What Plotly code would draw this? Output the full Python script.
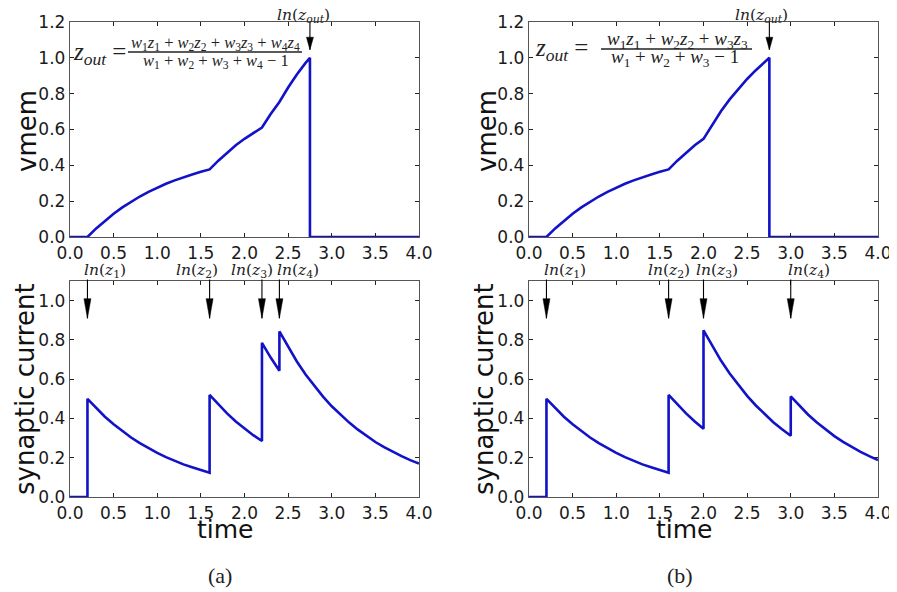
import plotly.graph_objects as go

# the page body has an 8px margin; the figure is sized so it fills the 897x592 window
OFF = 8
W, H = 897 - OFF, 592 - OFF

# ---------------- data ----------------
t_cur_a = [0.0, 0.2, 0.2, 0.3, 0.4, 0.5, 0.6, 0.7, 0.8, 0.9, 1.0, 1.1, 1.2, 1.3, 1.4, 1.5, 1.6, 1.6,
           1.7, 1.8, 1.9, 2.0, 2.1, 2.2, 2.2, 2.3, 2.4, 2.4, 2.5, 2.6, 2.7, 2.8, 2.9, 3.0,
           3.1, 3.2, 3.3, 3.4, 3.5, 3.6, 3.7, 3.8, 3.9, 4.0]
cur_a = [0.0, 0.0, 0.50, 0.452, 0.409, 0.370, 0.335, 0.303, 0.274, 0.248, 0.225, 0.203, 0.184, 0.166,
         0.151, 0.136, 0.123, 0.52, 0.471, 0.426, 0.385, 0.348, 0.315, 0.285, 0.785, 0.710, 0.643,
         0.843, 0.763, 0.690, 0.624, 0.565, 0.511, 0.462, 0.418, 0.379, 0.343, 0.310, 0.280, 0.254,
         0.230, 0.208, 0.188, 0.170]

t_cur_b = [0.0, 0.2, 0.2, 0.3, 0.4, 0.5, 0.6, 0.7, 0.8, 0.9, 1.0, 1.1, 1.2, 1.3, 1.4, 1.5, 1.6, 1.6,
           1.7, 1.8, 1.9, 2.0, 2.0, 2.1, 2.2, 2.3, 2.4, 2.5, 2.6, 2.7, 2.8, 2.9, 3.0, 3.0,
           3.1, 3.2, 3.3, 3.4, 3.5, 3.6, 3.7, 3.8, 3.9, 4.0]
cur_b = [0.0, 0.0, 0.50, 0.452, 0.409, 0.370, 0.335, 0.303, 0.274, 0.248, 0.225, 0.203, 0.184, 0.166,
         0.151, 0.136, 0.123, 0.52, 0.471, 0.426, 0.385, 0.348, 0.849, 0.768, 0.695, 0.629, 0.569,
         0.515, 0.466, 0.422, 0.381, 0.345, 0.312, 0.512, 0.463, 0.419, 0.379, 0.343, 0.310, 0.281,
         0.254, 0.230, 0.208, 0.188]

t_vmem_a = [0.0, 0.2, 0.3, 0.4, 0.5, 0.6, 0.7, 0.8, 0.9, 1.0, 1.1, 1.2, 1.3, 1.4, 1.5, 1.6,
            1.7, 1.8, 1.9, 2.0, 2.1, 2.2, 2.3, 2.4, 2.5, 2.6, 2.7, 2.75, 2.75, 4.0]
vmem_a = [0.0, 0.0, 0.048, 0.091, 0.130, 0.165, 0.197, 0.226, 0.252, 0.275, 0.297, 0.316, 0.334,
          0.349, 0.364, 0.377, 0.426, 0.471, 0.512, 0.548, 0.581, 0.611, 0.686, 0.754, 0.834,
          0.907, 0.972, 1.0, 0.0, 0.0]

t_vmem_b = [0.0, 0.2, 0.3, 0.4, 0.5, 0.6, 0.7, 0.8, 0.9, 1.0, 1.1, 1.2, 1.3, 1.4, 1.5, 1.6,
            1.7, 1.8, 1.9, 2.0, 2.1, 2.2, 2.3, 2.4, 2.5, 2.6, 2.7, 2.755, 2.755, 4.0]
vmem_b = [0.0, 0.0, 0.048, 0.091, 0.130, 0.165, 0.197, 0.226, 0.252, 0.275, 0.297, 0.316, 0.334,
          0.349, 0.364, 0.377, 0.426, 0.471, 0.512, 0.548, 0.629, 0.702, 0.768, 0.828, 0.882,
          0.931, 0.975, 1.0, 0.0, 0.0]

spikes_a = [0.2, 1.6, 2.2, 2.4]
spikes_b = [0.2, 1.6, 2.0, 3.0]
spike_labels = ["<i>ln</i>(<i>z</i><sub>1</sub>)", "<i>ln</i>(<i>z</i><sub>2</sub>)",
                "<i>ln</i>(<i>z</i><sub>3</sub>)", "<i>ln</i>(<i>z</i><sub>4</sub>)"]
fire_a = 2.75
fire_b = 2.755
fire_label = "<i>ln</i>(<i>z</i><sub><i>out</i></sub>)"

x_ticks = [0.0, 0.5, 1.0, 1.5, 2.0, 2.5, 3.0, 3.5, 4.0]
vmem_ticks = [0.0, 0.2, 0.4, 0.6, 0.8, 1.0, 1.2]
cur_ticks = [0.0, 0.2, 0.4, 0.6, 0.8, 1.0]

# ---------------- layout helpers (window pixels -> paper) ----------------
def px(x):
    return (x - OFF) / W

def py(y):
    return 1 - (y - OFF) / H

LINE = "#1212c8"
SERIF = "Liberation Serif"
LSERIF = "DejaVu Serif"
SANS = "DejaVu Sans"

panels = {  # (x0, x1, y0, y1) in window pixels
    "a_top": (70, 419, 22, 237),
    "b_top": (529, 878, 22, 237),
    "a_bot": (70, 419, 281, 497),
    "b_bot": (529, 878, 281, 497),
}

fig = go.Figure()

series = [
    ("x", "y", t_vmem_a, vmem_a),
    ("x2", "y2", t_vmem_b, vmem_b),
    ("x3", "y3", t_cur_a, cur_a),
    ("x4", "y4", t_cur_b, cur_b),
]
for xa, ya, xs, ys in series:
    fig.add_trace(go.Scatter(x=xs, y=ys, mode="lines", xaxis=xa, yaxis=ya,
                             line=dict(color=LINE, width=2.6), showlegend=False,
                             hoverinfo="skip", cliponaxis=False))

axis_common = dict(showline=True, mirror="ticks", linecolor="#555", linewidth=1.4,
                   ticks="inside", ticklen=4, tickwidth=1, tickcolor="#222",
                   showgrid=False, zeroline=False, automargin=False,
                   tickfont=dict(family=SANS, size=17, color="#1a1a1a"))

layout = dict(width=W, height=H, margin=dict(l=0, r=0, t=0, b=0, pad=0, autoexpand=False),
              paper_bgcolor="white", plot_bgcolor="white", showlegend=False)

keys = ["a_top", "b_top", "a_bot", "b_bot"]
for i, k in enumerate(keys):
    x0, x1, y0, y1 = panels[k]
    sx = "" if i == 0 else str(i + 1)
    top = k.endswith("top")
    layout["xaxis" + sx] = dict(axis_common, domain=[px(x0), px(x1)], anchor="y" + sx,
                                range=[0, 4], tickvals=x_ticks, tickformat=".1f")
    layout["yaxis" + sx] = dict(axis_common, domain=[py(y1), py(y0)], anchor="x" + sx,
                                range=[0, 1.2] if top else [0, 1.1],
                                tickvals=vmem_ticks if top else cur_ticks, tickformat=".1f")
fig.update_layout(**layout)

ann = []
shapes = []

def arrow(xa, ya, t, tip, base, tail, dx):
    ann.append(dict(xref=xa, yref=ya, axref=xa, ayref=ya, x=t, y=tip, ax=t, ay=tail,
                    text="", showarrow=True, arrowhead=0, arrowwidth=1.1,
                    arrowcolor="black", standoff=0, startstandoff=0, font=dict(size=1)))
    shapes.append(dict(type="path", xref=xa, yref=ya,
                       path=f"M {t - dx},{base} L {t + dx},{base} L {t},{tip} Z",
                       fillcolor="black", line=dict(color="black", width=0.5)))

# spike arrows & labels (bottom panels)
label_x_a = [0.40, 1.46, 2.09, 2.61]
label_x_b = [0.41, 1.60, 2.16, 3.21]
for xa, ya, spikes, lx in [("x3", "y3", spikes_a, label_x_a), ("x4", "y4", spikes_b, label_x_b)]:
    for t, lab, cx in zip(spikes, spike_labels, lx):
        arrow(xa, ya, t, 0.91, 1.01, 1.115, 0.04)
        ann.append(dict(xref=xa, yref="paper", x=cx, y=py(271), text=lab, showarrow=False,
                        xanchor="center", yanchor="middle",
                        font=dict(family=LSERIF, size=15.5, color="#222")))

# firing arrows & labels (top panels)
for xa, ya, t, cx in [("x", "y", fire_a, 2.68), ("x2", "y2", fire_b, 2.66)]:
    arrow(xa, ya, t, 1.045, 1.115, 1.21, 0.04)
    ann.append(dict(xref=xa, yref="paper", x=cx, y=py(16), text=fire_label, showarrow=False,
                    xanchor="center", yanchor="middle",
                    font=dict(family=LSERIF, size=15.5, color="#222")))

# formulas
def formula(zx, zy, zsize, num, nx, ny, den, dx_, dy, fsize, bar):
    ann.append(dict(xref="paper", yref="paper", x=px(zx), y=py(zy),
                    text="<i>z</i><sub><i>out</i></sub> =", showarrow=False,
                    xanchor="left", yanchor="middle",
                    font=dict(family=SERIF, size=zsize, color="#222")))
    ann.append(dict(xref="paper", yref="paper", x=px(nx), y=py(ny), text=num, showarrow=False,
                    xanchor="center", yanchor="middle",
                    font=dict(family=SERIF, size=fsize, color="#222")))
    ann.append(dict(xref="paper", yref="paper", x=px(dx_), y=py(dy), text=den, showarrow=False,
                    xanchor="center", yanchor="middle",
                    font=dict(family=SERIF, size=fsize, color="#222")))
    shapes.append(dict(type="line", xref="paper", yref="paper", x0=px(bar[0]), x1=px(bar[1]),
                       y0=py(bar[2]), y1=py(bar[2]), line=dict(color="#222", width=1.3)))

num_a = ("<i>w</i><sub>1</sub><i>z</i><sub>1</sub> + <i>w</i><sub>2</sub><i>z</i><sub>2</sub> + "
         "<i>w</i><sub>3</sub><i>z</i><sub>3</sub> + <i>w</i><sub>4</sub><i>z</i><sub>4</sub>")
den_a = "<i>w</i><sub>1</sub> + <i>w</i><sub>2</sub> + <i>w</i><sub>3</sub> + <i>w</i><sub>4</sub> − 1"
num_b = ("<i>w</i><sub>1</sub><i>z</i><sub>1</sub> + <i>w</i><sub>2</sub><i>z</i><sub>2</sub> + "
         "<i>w</i><sub>3</sub><i>z</i><sub>3</sub>")
den_b = "<i>w</i><sub>1</sub> + <i>w</i><sub>2</sub> + <i>w</i><sub>3</sub> − 1"

formula(71, 54, 25, num_a, 215, 43, den_a, 216, 61, 16.5, (128, 302, 52))
formula(533, 50, 25, num_b, 677, 40, den_b, 675, 58, 19, (601, 752, 49))

# axis titles
for x_, y_, txt in [(27, 131, "vmem"), (487, 131, "vmem"),
                    (25, 389, "synaptic current"), (484, 389, "synaptic current")]:
    ann.append(dict(xref="paper", yref="paper", x=px(x_), y=py(y_), text=txt, showarrow=False,
                    textangle=-90, xanchor="center", yanchor="middle",
                    font=dict(family=SANS, size=26, color="#111")))
for x_, txt in [(225, "time"), (684, "time")]:
    ann.append(dict(xref="paper", yref="paper", x=px(x_), y=py(529), text=txt, showarrow=False,
                    xanchor="center", yanchor="middle",
                    font=dict(family=SANS, size=25, color="#111")))
for x_, txt in [(220, "(a)"), (680, "(b)")]:
    ann.append(dict(xref="paper", yref="paper", x=px(x_), y=py(575), text=txt, showarrow=False,
                    xanchor="center", yanchor="middle",
                    font=dict(family=SERIF, size=22, color="#222")))

fig.update_layout(annotations=ann, shapes=shapes)
fig.write_html("out.html")
